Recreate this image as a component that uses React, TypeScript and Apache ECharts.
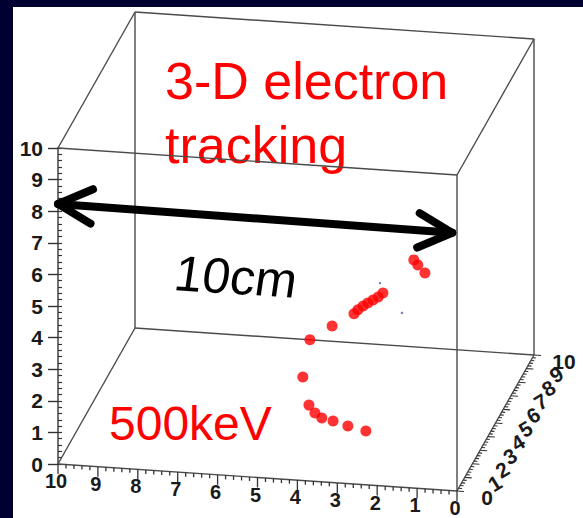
import React, { useEffect, useRef } from "react";
import * as echarts from "echarts";

// ---------- data ----------
const xTickLabels = ["0", "1", "2", "3", "4", "5", "6", "7", "8", "9", "10"];
const yTickLabels = ["0", "1", "2", "3", "4", "5", "6", "7", "8", "9", "10"];
const zTickLabels = ["0", "1", "2", "3", "4", "5", "6", "7", "8", "9", "10"];

// electron track hits (cm)
const hitX = [2.67, 3.16, 3.57, 3.89, 4.1, 4.29, 4.52, 4.42, 3.94, 3.47, 3.39, 3.28, 3.18, 3.07, 2.96, 2.86, 2.0, 2.14, 2.24];
const hitY = [2.0, 2.2, 2.4, 2.6, 2.8, 3.0, 3.4, 3.8, 4.2, 4.6, 4.7, 4.8, 4.9, 5.0, 5.1, 5.2, 6.2, 6.0, 6.0];
const hitZ = [0.81, 0.84, 0.88, 0.86, 0.91, 1.06, 1.76, 2.77, 3.08, 3.33, 3.42, 3.51, 3.57, 3.63, 3.69, 3.78, 4.06, 4.39, 4.54];

// faint noise hits
const noiseX = [2.99, 2.44];
const noiseY = [5.5, 5.5];
const noiseZ = [3.96, 3.06];

const titleLines = ["3-D electron", "tracking"];
const scaleLabel = "10cm";
const energyLabel = "500keV";
const arrowFrom = [10, 0, 8.23];
const arrowTo = [0.12, 0, 8.16];

// ---------- layout ----------
const W = 583;
const H = 518;
const FONT = "'Liberation Sans', Arial, Helvetica, sans-serif";
const BOX = 10;

// oblique projection (screen px per cm)
const O = [457, 491];
const EX = [-39.9, -2.7];
const EY = [7.7, -13.6];
const EZ = [0, -31.6];
function proj(x: number, y: number, z: number): number[] {
  return [O[0] + EX[0] * x + EY[0] * y + EZ[0] * z, O[1] + EX[1] * x + EY[1] * y + EZ[1] * z];
}

export default function App() {
  const ref = useRef<HTMLDivElement>(null);
  useEffect(() => {
    if (!ref.current) return;
    const chart = echarts.init(ref.current, undefined, { renderer: "svg" });

    const frameItem = (params: any, api: any) => {
      const c = (x: number, y: number, z: number) => api.coord(proj(x, y, z));
      const children: any[] = [];
      const line = (a: number[], b: number[], stroke: string, lw: number, extra: any = {}) =>
        children.push({
          type: "line",
          shape: { x1: a[0], y1: a[1], x2: b[0], y2: b[1] },
          style: { stroke, lineWidth: lw, ...extra },
        });
      const text = (s: string, p: number[], rot: number, size: number) =>
        children.push({
          type: "text",
          x: p[0],
          y: p[1],
          rotation: rot,
          style: {
            text: s,
            fill: "#1a1a1a",
            fontSize: size,
            fontWeight: "bold",
            fontFamily: FONT,
            align: "center",
            verticalAlign: "middle",
            textAlign: "center",
            textVerticalAlign: "middle",
          },
        });
      const B = BOX;
      const edges: number[][][] = [
        [[0, 0, 0], [B, 0, 0]],
        [[0, B, 0], [B, B, 0]],
        [[0, 0, B], [B, 0, B]],
        [[0, B, B], [B, B, B]],
        [[0, 0, 0], [0, B, 0]],
        [[B, 0, 0], [B, B, 0]],
        [[0, 0, B], [0, B, B]],
        [[B, 0, B], [B, B, B]],
        [[0, 0, 0], [0, 0, B]],
        [[0, B, 0], [0, B, B]],
        [[B, B, 0], [B, B, B]],
      ];
      edges.forEach((e) => line(c(e[0][0], e[0][1], e[0][2]), c(e[1][0], e[1][1], e[1][2]), "#4a4a4a", 1.4));

      // x axis ticks (front bottom edge)
      for (let i = 0; i <= 50; i++) {
        const p = c(i / 5, 0, 0);
        const len = i % 5 === 0 ? 10 : 4;
        line(p, [p[0], p[1] + len], "#333", 1.3);
      }
      xTickLabels.forEach((s, i) => {
        const p = c(i, 0, 0);
        text(s, [p[0] - 2, p[1] + 17], 0, 20);
      });

      // depth axis ticks (right bottom edge)
      for (let i = 0; i <= 50; i++) {
        const p = c(0, i / 5, 0);
        const len = i % 5 === 0 ? 7 : 3.5;
        line(p, [p[0] + len, p[1] + len * 0.068], "#333", 1.1);
      }
      yTickLabels.forEach((s, i) => {
        const p = c(0, i, 0);
        const rot = i === 0 || i === 10 ? 0 : 0.55;
        text(s, [p[0] + 30, p[1] + 6], rot, 21);
      });

      // 10 cm arrow
      const A = c(arrowFrom[0], arrowFrom[1], arrowFrom[2]);
      const Bp = c(arrowTo[0], arrowTo[1], arrowTo[2]);
      line(A, Bp, "#000", 8, { lineCap: "round" });
      const head = (tip: number[], other: number[]) => {
        const dx = other[0] - tip[0];
        const dy = other[1] - tip[1];
        const n = Math.hypot(dx, dy);
        const ux = dx / n;
        const uy = dy / n;
        const a = (27 * Math.PI) / 180;
        const L = 38;
        const r1 = [tip[0] + L * (ux * Math.cos(a) - uy * Math.sin(a)), tip[1] + L * (ux * Math.sin(a) + uy * Math.cos(a))];
        const r2 = [tip[0] + L * (ux * Math.cos(-a) - uy * Math.sin(-a)), tip[1] + L * (ux * Math.sin(-a) + uy * Math.cos(-a))];
        children.push({
          type: "polyline",
          shape: { points: [r1, tip, r2] },
          style: { stroke: "#000", lineWidth: 8, fill: null, lineCap: "round", lineJoin: "round" },
        });
      };
      head(A, Bp);
      head(Bp, A);
      return { type: "group", children };
    };

    const option: any = {
      animation: false,
      backgroundColor: "#000033",
      grid: [
        { left: 0, top: 0, width: W, height: H, show: false },
        { left: 58, top: 148, width: 399, height: 316, show: false },
      ],
      xAxis: [
        { type: "value", gridIndex: 0, min: 0, max: W, show: false },
        { type: "value", gridIndex: 1, min: 0, max: 10, show: false },
      ],
      yAxis: [
        { type: "value", gridIndex: 0, min: 0, max: H, inverse: true, show: false },
        {
          type: "value",
          gridIndex: 1,
          min: 0,
          max: 10,
          interval: 1,
          position: "left",
          axisLine: { show: true, lineStyle: { color: "#444", width: 1.5 } },
          axisTick: { show: true, length: 10, lineStyle: { color: "#333", width: 1.4 } },
          axisLabel: {
            fontSize: 21,
            fontWeight: "bold",
            color: "#1a1a1a",
            fontFamily: FONT,
            margin: 15,
            formatter: (v: number) => zTickLabels[Math.round(v)] ?? "",
          },
          splitLine: { show: false },
        },
        {
          type: "value",
          gridIndex: 1,
          min: 0,
          max: 10,
          interval: 0.2,
          position: "left",
          axisLine: { show: false },
          axisTick: { show: true, inside: true, length: 4, lineStyle: { color: "#333", width: 1.2 } },
          axisLabel: { show: false },
          splitLine: { show: false },
        },
      ],
      graphic: [
        { type: "rect", z: -100, silent: true, shape: { x: 13, y: 7, width: W - 13, height: H - 7 }, style: { fill: "#ffffff" } },
        {
          type: "text",
          x: 165,
          y: 81,
          style: { text: titleLines[0], fill: "#ff0000", fontSize: 52, fontFamily: FONT, align: "left", verticalAlign: "middle", textAlign: "left", textVerticalAlign: "middle" },
        },
        {
          type: "text",
          x: 165,
          y: 145,
          style: { text: titleLines[1], fill: "#ff0000", fontSize: 52, fontFamily: FONT, align: "left", verticalAlign: "middle", textAlign: "left", textVerticalAlign: "middle" },
        },
        {
          type: "text",
          x: 236,
          y: 277,
          rotation: -0.065,
          skewX: -0.08,
          style: { text: scaleLabel, fill: "#000000", fontSize: 50, fontFamily: FONT, align: "center", verticalAlign: "middle", textAlign: "center", textVerticalAlign: "middle" },
        },
        {
          type: "text",
          x: 109,
          y: 423,
          style: { text: energyLabel, fill: "#ff0000", fontSize: 48, fontFamily: FONT, align: "left", verticalAlign: "middle", textAlign: "left", textVerticalAlign: "middle" },
        },
      ],
      series: [
        {
          type: "custom",
          xAxisIndex: 0,
          yAxisIndex: 0,
          silent: true,
          z: 1,
          data: [[0, 0]],
          renderItem: frameItem,
        },
        {
          type: "scatter",
          xAxisIndex: 0,
          yAxisIndex: 0,
          z: 5,
          symbol: "circle",
          symbolSize: 2.5,
          itemStyle: { color: "#5566aa" },
          data: noiseX.map((x, i) => proj(x, noiseY[i], noiseZ[i])),
        },
        {
          type: "scatter",
          xAxisIndex: 0,
          yAxisIndex: 0,
          z: 6,
          symbol: "circle",
          symbolSize: 11,
          itemStyle: { color: "#ff0000" },
          data: hitX.map((x, i) => proj(x, hitY[i], hitZ[i])),
        },
      ],
    };
    chart.setOption(option);
    return () => chart.dispose();
  }, []);
  return <div ref={ref} style={{ position: "fixed", left: 0, top: 0, width: W, height: H }} />;
}
